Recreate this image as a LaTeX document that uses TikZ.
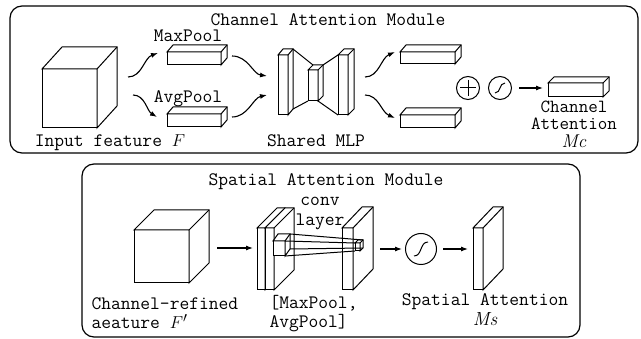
\documentclass[tikz,border=0pt]{standalone}
\usepackage{fontspec}
\usetikzlibrary{calc,arrows.meta}

% top and side faces behind a front face node
\newcommand\cubeside[3]{%
  \draw[fill=white] (#1.north west) -- ++(#2,#3) -- ($(#1.north east)+(#2,#3)$)
    -- ($(#1.south east)+(#2,#3)$) -- (#1.south east) -- (#1.north east) -- cycle;
  \draw (#1.north east) -- ++(#2,#3);}
% s-shaped curve inside an operator circle
\newcommand\sigcurve[2]{%
  \draw ($(#1.center)+(-#2,#2)$) .. controls ($(#1.center)+(0.2*#2,#2)$) and ($(#1.center)+(-0.2*#2,-#2)$) .. ($(#1.center)+(#2,-#2)$);}

\tikzset{
  face/.style={draw, fill=white, inner sep=0pt, outer sep=0pt},
  sz/.style 2 args={minimum width=#1pt, minimum height=#2pt},
  module/.style={draw, rounded corners=12pt, line width=1.2pt},
  lbl/.style={inner sep=0pt, font=\ttfamily\fontsize{19}{19}\selectfont},
  flow/.style={-{Latex[length=7pt,width=5pt]}, line width=1.1pt},
  op/.style={draw, circle, inner sep=0pt, line width=1pt},
}

\begin{document}
\begin{tikzpicture}[x=1pt, y=-1pt, line width=1pt]
\useasboundingbox (0,0) rectangle (641,339);

% module frames
\draw[module] (10,6) rectangle (638,153);
\draw[module] (82,164) rectangle (580,337);
\node[lbl] (cam) at (328,20) {Channel Attention Module};
\node[lbl] (sam) at (326,182) {Spatial Attention Module};

% ---- channel attention ----
\node[face, sz={55}{59}] (feat) at (69.5,98.5) {};
\cubeside{feat}{20}{-22}
\node[lbl] (featl) at (110,143) {Input feature $F$};

\node[face, sz={54}{13}] (maxv) at (194,58.5) {};
\cubeside{maxv}{6}{-7}
\node[lbl] (maxl) at (188,36) {MaxPool};
\node[face, sz={54}{13}] (avgv) at (194,120.5) {};
\cubeside{avgv}{6}{-7}
\node[lbl] (avgl) at (188,99) {AvgPool};

% shared MLP
\node[face, sz={10}{60}] (mlpa) at (283,85) {};
\cubeside{mlpa}{5}{-6}
\node[face, sz={10}{31}] (mlpb) at (313,85.5) {};
\cubeside{mlpb}{5}{-5}
\node[face, sz={10}{60}] (mlpc) at (343,85) {};
\cubeside{mlpc}{6}{-6}
\draw ($(mlpa.north east)+(5,-6)$) -- ($(mlpb.north west)+(5,-5)$);
\draw ($(mlpa.south east)+(5,-6)$) -- (mlpb.south west);
\draw ($(mlpb.north east)+(5,-5)$) -- (mlpc.north west);
\draw (mlpb.south east) -- (mlpc.south west);
\node[lbl] (mlpl) at (316,141) {Shared MLP};

\node[face, sz={55}{12}] (outa) at (427.5,58) {};
\cubeside{outa}{6}{-7}
\node[face, sz={55}{13}] (outb) at (427.5,121.5) {};
\cubeside{outb}{6}{-7}

\node[op, minimum size=23pt] (sum) at (468,88) {};
\draw ($(sum.center)+(-8,0)$) -- ($(sum.center)+(8,0)$)
      ($(sum.center)+(0,-8)$) -- ($(sum.center)+(0,8)$);
\node[op, minimum size=23pt] (sga) at (500,88) {};
\sigcurve{sga}{5}

\node[face, sz={55}{14}] (mc) at (575.5,90) {};
\cubeside{mc}{6}{-6}
\node[lbl, align=center, font=\ttfamily\fontsize{18.5}{17.5}\selectfont] (mcl) at (574,124)
  {Channel\\Attention\\$\mathit{Mc}$};

\coordinate (f1) at (128,77);
\coordinate (f2) at (133,95);
\coordinate (mx1) at (158,53);
\coordinate (av1) at (157,117);
\coordinate (mx2) at (232,56);
\coordinate (av2) at (232,117);
\coordinate (ml1) at (267,76);
\coordinate (ml2) at (267,95);
\coordinate (ml3) at (365,77);
\coordinate (ml4) at (365,95);
\coordinate (oa) at (395,52);
\coordinate (ob) at (395,118);
\coordinate (sg1) at (519,88);
\coordinate (mc1) at (543,88);

\draw[flow] (f1) .. controls +(14,0) and +(-14,5) .. (mx1);
\draw[flow] (f2) .. controls +(12,0) and +(-10,-6) .. (av1);
\draw[flow] (mx2) .. controls +(16,0) and +(-14,-2) .. (ml1);
\draw[flow] (av2) .. controls +(16,0) and +(-14,3) .. (ml2);
\draw[flow] (ml3) .. controls +(14,0) and +(-14,6) .. (oa);
\draw[flow] (ml4) .. controls +(14,0) and +(-14,-6) .. (ob);
\draw[flow] (sg1) -- (mc1);

% ---- spatial attention ----
\node[face, sz={55}{53}] (refd) at (161.5,256.5) {};
\cubeside{refd}{20}{-20}
\node[lbl, align=left, anchor=west] (refl) at (91,313.5)
  {Channel-refined\\aeature $F'$};

\node[face, sz={8}{62}] (pmax) at (261,259) {};
\cubeside{pmax}{20}{-20}
\node[face, sz={9}{62}] (pavg) at (269.5,259) {};
\cubeside{pavg}{20}{-20}
\node[face, sz={11}{62}] (convo) at (347.5,259) {};
\cubeside{convo}{20}{-21}

% conv kernel and its output cell
\node[face, sz={12}{15}] (kern) at (279,248.5) {};
\cubeside{kern}{5}{-7}
\node[face, sz={5}{8}] (cell) at (357.5,247) {};
\cubeside{cell}{3}{-3}
\draw ($(kern.north east)+(5,-7)$) -- ($(cell.north east)+(3,-3)$);
\draw (kern.north east) -- (cell.north west);
\draw (kern.south east) -- (cell.south west);
\draw ($(kern.south east)+(5,-7)$) -- ($(cell.south east)+(3,-3)$);

\node[lbl, align=center, font=\ttfamily\fontsize{19}{20}\selectfont] (convl) at (320,213) {conv\\layer};
\node[lbl, align=left, anchor=west] (pooll) at (269,313.5) {[MaxPool,\\AvgPool]};

\node[op, minimum size=31pt] (sgb) at (421,249) {};
\sigcurve{sgb}{7}

\node[face, sz={10}{62}] (ms) at (478,259) {};
\cubeside{ms}{20}{-21}
\node[lbl, align=center, font=\ttfamily\fontsize{19}{20}\selectfont] (msl) at (485,310)
  {Spatial Attention\\$\mathit{Ms}$};

\coordinate (r1) at (217,248);
\coordinate (r2) at (253,248);
\coordinate (c1) at (380,249);
\coordinate (c2) at (402,249);
\coordinate (s1) at (443,249);
\coordinate (s2) at (468,249);
\draw[flow] (r1) -- (r2);
\draw[flow] (c1) -- (c2);
\draw[flow] (s1) -- (s2);
\end{tikzpicture}
\end{document}
